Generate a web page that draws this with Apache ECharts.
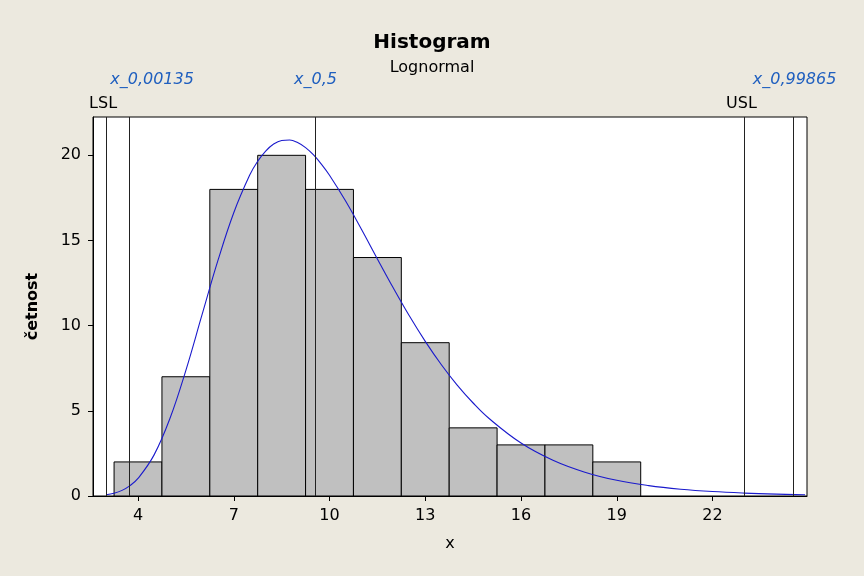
<!DOCTYPE html>
<html>
<head>
<meta charset="utf-8">
<script src="https://cdn.jsdelivr.net/npm/echarts@6/dist/echarts.min.js"></script>
<style>
html,body{margin:0;padding:0;background:#ECE9DF;}
#c{width:864px;height:576px;}
</style>
</head>
<body>
<div id="c"></div>
<script>
// Histogram bins (lower edges, upper edges) and counts
const binLow  = [3.25, 4.75, 6.25, 7.75, 9.25, 10.75, 12.25, 13.75, 15.25, 16.75, 18.25];
const binHigh = [4.75, 6.25, 7.75, 9.25, 10.75, 12.25, 13.75, 15.25, 16.75, 18.25, 19.75];
const counts  = [2, 7, 18, 20, 18, 14, 9, 4, 3, 3, 2];

// Fitted lognormal curve
const curveX = [3.0, 3.25, 3.5, 3.75, 4.0, 4.5, 5.0, 5.5, 6.0, 6.5, 7.0, 7.5, 7.75, 8.0, 8.25, 8.5, 8.75, 9.0, 9.25, 9.5, 9.75, 10.0, 10.5, 11.0, 11.5, 12.0, 12.5, 13.0, 13.5, 14.0, 14.5, 15.0, 16.0, 17.0, 18.0, 19.0, 20.0, 21.0, 22.0, 23.0, 24.0, 24.9];
const curveY = [0.07, 0.16, 0.33, 0.61, 1.03, 2.40, 4.55, 7.38, 10.60, 13.80, 16.63, 18.84, 19.65, 20.25, 20.66, 20.87, 20.90, 20.75, 20.45, 20.02, 19.47, 18.83, 17.33, 15.66, 13.92, 12.21, 10.58, 9.08, 7.72, 6.51, 5.46, 4.55, 3.11, 2.10, 1.40, 0.92, 0.61, 0.40, 0.26, 0.17, 0.11, 0.075];

// Reference lines
const refNames  = ['LSL', 'x_0,00135', 'x_0,5', 'USL', 'x_0,99865'];
const refValues = [3.0, 3.72, 9.56, 23.0, 24.54];

const xTicks = [4, 7, 10, 13, 16, 19, 22];
const yTicks = [0, 5, 10, 15, 20];

const FONT = 'DejaVu Sans';
const chart = echarts.init(document.getElementById('c'), null, {renderer: 'canvas'});

const histData = binLow.map((lo, i) => [lo, binHigh[i], counts[i]]);
const curveData = curveX.map((x, i) => [x, curveY[i]]);

const option = {
  backgroundColor: '#ECE9DF',
  animation: false,
  title: {
    text: 'Histogram',
    subtext: 'Lognormal',
    left: 'center',
    top: 28,
    itemGap: 7,
    textStyle: {fontFamily: FONT, fontWeight: 'bold', fontSize: 20, color: '#000'},
    subtextStyle: {fontFamily: FONT, fontSize: 16, color: '#000'}
  },
  grid: {
    left: 93, right: 57, top: 117, bottom: 80,
    show: true, backgroundColor: '#fff', borderColor: '#000', borderWidth: 1
  },
  xAxis: {
    type: 'value', min: 2.59, max: 24.96,
    name: 'x', nameLocation: 'middle', nameGap: 40,
    nameTextStyle: {fontFamily: FONT, fontSize: 16, color: '#000'},
    axisLine: {show: true, onZero: false, lineStyle: {color: '#000'}},
    axisTick: {show: true, length: 5, customValues: xTicks, lineStyle: {color: '#000'}},
    axisLabel: {customValues: xTicks, fontFamily: FONT, fontSize: 16, color: '#000', margin: 12},
    splitLine: {show: false}
  },
  yAxis: {
    type: 'value', min: 0, max: 22.25,
    name: 'četnost', nameLocation: 'middle', nameGap: 52, nameRotate: 90,
    nameTextStyle: {fontFamily: FONT, fontSize: 16, fontWeight: 'bold', color: '#000'},
    axisLine: {show: true, lineStyle: {color: '#000'}},
    axisTick: {show: true, length: 5, customValues: yTicks, lineStyle: {color: '#000'}},
    axisLabel: {customValues: yTicks, fontFamily: FONT, fontSize: 16, color: '#000', margin: 12},
    splitLine: {show: false}
  },
  series: [
    {
      type: 'custom',
      data: histData,
      encode: {x: [0, 1], y: 2},
      renderItem: function (params, api) {
        const p0 = api.coord([api.value(0), 0]);
        const p1 = api.coord([api.value(1), api.value(2)]);
        return {
          type: 'rect',
          shape: {x: p0[0], y: p1[1], width: p1[0] - p0[0], height: p0[1] - p1[1]},
          style: {fill: '#C0C0C0', stroke: '#000', lineWidth: 1}
        };
      },
      z: 2
    },
    {
      type: 'line',
      data: curveData,
      smooth: 0.4,
      showSymbol: false,
      lineStyle: {color: '#1A1ACC', width: 1.1},
      z: 4
    },
    {
      type: 'line',
      data: [],
      markLine: {
        silent: true,
        symbol: ['none', 'none'],
        label: {show: false},
        lineStyle: {color: '#222', width: 1, type: 'solid'},
        data: refValues.map(v => ({xAxis: v}))
      },
      z: 3
    }
  ]
};
chart.setOption(option);

// Reference-line labels placed above the plot, anchored to the line positions
const labelShift = [-3, 23, 0, -3, 1];
const graphics = refNames.map((name, i) => {
  const px = chart.convertToPixel({xAxisIndex: 0}, refValues[i]);
  const isSpec = name === 'LSL' || name === 'USL';
  return {
    type: 'text',
    x: px + labelShift[i],
    y: isSpec ? 104 : 80,
    style: {
      text: name,
      fontFamily: FONT,
      fontSize: 16,
      fontStyle: isSpec ? 'normal' : 'italic',
      fill: isSpec ? '#000' : '#1F5FBF',
      align: 'center',
      verticalAlign: 'middle'
    }
  };
});
chart.setOption({graphic: graphics});
</script>
</body>
</html>
